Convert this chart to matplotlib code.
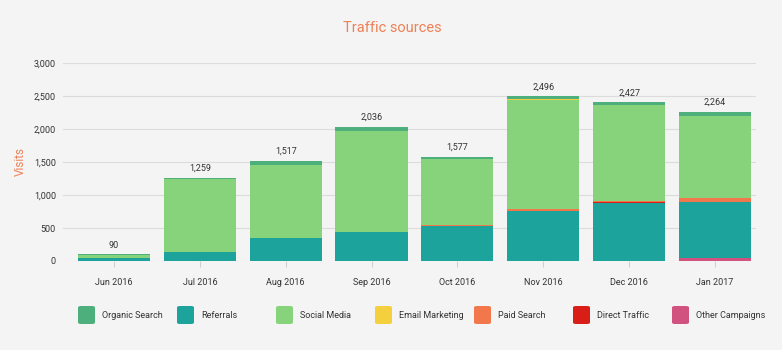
import numpy as np
import matplotlib
matplotlib.use('Agg')
from matplotlib import pyplot as plt
from matplotlib.patches import FancyBboxPatch

plt.rcParams['font.family'] = ['Roboto', 'DejaVu Sans']

months = ['Jun 2016', 'Jul 2016', 'Aug 2016', 'Sep 2016',
          'Oct 2016', 'Nov 2016', 'Dec 2016', 'Jan 2017']
totals = [90, 1259, 1517, 2036, 1577, 2496, 2427, 2264]

# values, stacked bottom -> top
other_campaigns = [0, 0, 0, 0, 0, 0, 0, 45]
referrals = [50, 141, 353, 444, 535, 757, 873, 849]
direct_traffic = [0, 0, 0, 0, 0, 8, 20, 0]
paid_search = [0, 0, 0, 0, 15, 30, 20, 65]
social_media = [45, 1105, 1107, 1520, 996, 1646, 1449, 1238]
email_marketing = [0, 0, 0, 6, 0, 10, 0, 0]
organic_search = [5, 12, 60, 65, 30, 45, 45, 60]

stack_order = [
    ('Other Campaigns', other_campaigns, '#D2527F'),
    ('Referrals', referrals, '#1BA39C'),
    ('Direct Traffic', direct_traffic, '#D91E18'),
    ('Paid Search', paid_search, '#F2784B'),
    ('Social Media', social_media, '#87D37C'),
    ('Email Marketing', email_marketing, '#F4D03F'),
    ('Organic Search', organic_search, '#4DAF7C'),
]
legend_order = ['Organic Search', 'Referrals', 'Social Media', 'Email Marketing',
                'Paid Search', 'Direct Traffic', 'Other Campaigns']

bg = '#F4F4F4'
accent = '#EE8157'

fig = plt.figure(figsize=(7.82, 3.5), dpi=100, facecolor=bg)
ax = fig.add_axes([63 / 782, 1 - 261 / 350, 693 / 782, 198 / 350], facecolor=bg)

x = np.arange(len(months))
bottom = np.zeros(len(months))
colors = {}
for name, vals, col in stack_order:
    vals = np.array(vals, dtype=float)
    ax.bar(x, vals, bottom=bottom, width=0.84, color=col, linewidth=0, zorder=3)
    bottom += vals
    colors[name] = col

for xi, top, lab in zip(x, bottom, totals):
    ax.annotate(f'{lab:,}', (xi, top), xytext=(0, 3.5), textcoords='offset points',
                ha='center', va='bottom', fontsize=6.5, color='#333333')

ax.set_ylim(0, 3000)
ax.set_xlim(-0.594, 7.478)
ax.set_yticks(np.arange(0, 3001, 500))
ax.yaxis.set_major_formatter(matplotlib.ticker.FuncFormatter(lambda v, p: f'{int(v):,}'))
ax.set_xticks(x)
ax.set_xticklabels(months)
ax.grid(axis='y', color='#DCDCDC', linewidth=0.8, zorder=0)
for s in ax.spines.values():
    s.set_visible(False)
ax.tick_params(axis='y', length=0, pad=5, labelsize=6.5, labelcolor='#333333')
ax.tick_params(axis='x', length=4, color='#D0D0D0', pad=8, labelsize=6.5, labelcolor='#333333')

ax.set_ylabel('Visits', color=accent, fontsize=8.5)
ax.yaxis.set_label_coords(-0.052, 0.505)

fig.text(392 / 782, 1 - 28 / 350, 'Traffic sources', ha='center', va='center',
         fontsize=10.5, color=accent)

# legend row
for i, name in enumerate(legend_order):
    x0 = 78 + i * 99
    patch = FancyBboxPatch((x0 / 782, 1 - 324 / 350), 17 / 782, 18 / 350,
                           boxstyle='round,pad=0,rounding_size=0.004',
                           transform=fig.transFigure, facecolor=colors[name],
                           edgecolor='none')
    fig.add_artist(patch)
    fig.text((x0 + 24) / 782, 1 - 315 / 350, name, ha='left', va='center',
             fontsize=6.5, color='#333333')

plt.savefig('out.png', dpi=100, facecolor=bg)
